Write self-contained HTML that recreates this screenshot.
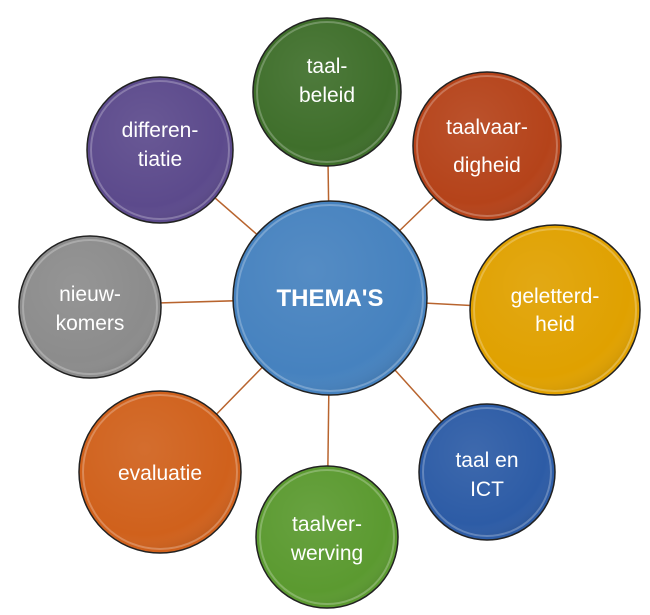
<!DOCTYPE html>
<html><head><meta charset="utf-8"><style>
html,body{margin:0;padding:0;background:#fff;width:650px;height:615px;overflow:hidden}
svg text{font-family:"Liberation Sans",sans-serif;fill:#fff;text-anchor:middle}
</style></head><body>
<svg width="650" height="615" viewBox="0 0 650 615">
<defs>
<radialGradient id="sh" cx="0.4" cy="0.35" r="0.7">
<stop offset="0" stop-color="#fff" stop-opacity="0.08"/>
<stop offset="0.8" stop-color="#fff" stop-opacity="0"/>
<stop offset="1" stop-color="#000" stop-opacity="0.1"/>
</radialGradient>
</defs>
<g stroke="#b8642e" stroke-width="1.5">
<line x1="330" y1="298" x2="327" y2="92"/>
<line x1="330" y1="298" x2="487" y2="146"/>
<line x1="330" y1="298" x2="555" y2="310"/>
<line x1="330" y1="298" x2="487" y2="472"/>
<line x1="330" y1="298" x2="327" y2="537"/>
<line x1="330" y1="298" x2="160" y2="472"/>
<line x1="330" y1="298" x2="90" y2="305"/>
<line x1="330" y1="298" x2="160" y2="150"/>
</g>
<g stroke="#222" stroke-width="1.5">
<circle cx="330" cy="298" r="97" fill="#4682bf"/>
<circle cx="327" cy="92" r="74" fill="#3f6f2b"/>
<circle cx="487" cy="146" r="74" fill="#b5431a"/>
<circle cx="555" cy="310" r="85" fill="#e0a100"/>
<circle cx="487" cy="472" r="68" fill="#2d5ca6"/>
<circle cx="327" cy="537" r="71" fill="#5b9a30"/>
<circle cx="160" cy="472" r="81" fill="#d0611c"/>
<circle cx="90" cy="307" r="71" fill="#8c8c8c"/>
<circle cx="160" cy="150" r="73" fill="#5c4a8c"/>
</g>
<g fill="url(#sh)" stroke="#fff" stroke-opacity="0.25" stroke-width="2">
<circle cx="330" cy="298" r="93"/>
<circle cx="327" cy="92" r="70"/>
<circle cx="487" cy="146" r="70"/>
<circle cx="555" cy="310" r="81"/>
<circle cx="487" cy="472" r="64"/>
<circle cx="327" cy="537" r="67"/>
<circle cx="160" cy="472" r="77"/>
<circle cx="90" cy="307" r="67"/>
<circle cx="160" cy="150" r="69"/>
</g>
<text x="330" y="306" font-size="24" font-weight="bold">THEMA'S</text>
<g font-size="21">
<text x="327" y="73">taal-</text><text x="327" y="102">beleid</text>
<text x="487" y="134">taalvaar-</text><text x="487" y="172">digheid</text>
<text x="555" y="303">geletterd-</text><text x="555" y="331">heid</text>
<text x="487" y="467">taal en</text><text x="487" y="496">ICT</text>
<text x="327" y="531">taalver-</text><text x="327" y="560">werving</text>
<text x="160" y="480">evaluatie</text>
<text x="90" y="301">nieuw-</text><text x="90" y="330">komers</text>
<text x="160" y="137">differen-</text><text x="160" y="166">tiatie</text>
</g>
</svg>
</body></html>
